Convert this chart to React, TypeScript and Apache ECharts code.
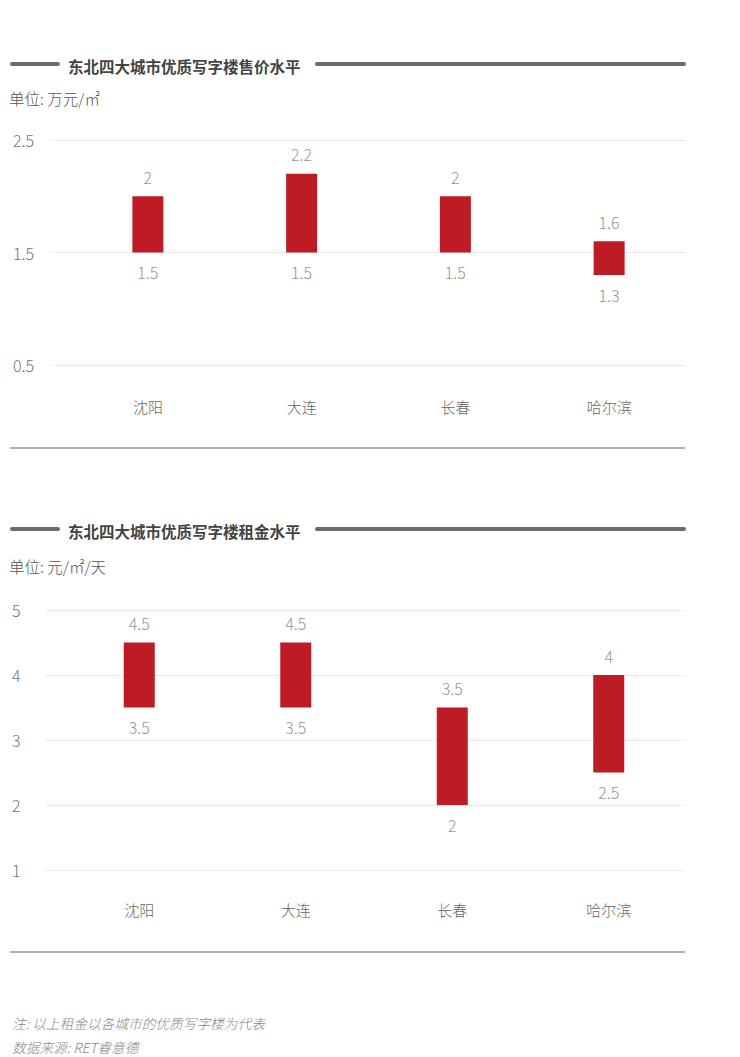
import React, { useEffect, useRef } from 'react';
import * as echarts from 'echarts';

const cities = ['沈阳', '大连', '长春', '哈尔滨'];
const priceLow = [1.5, 1.5, 1.5, 1.3];
const priceHigh = [2, 2.2, 2, 1.6];
const rentLow = [3.5, 3.5, 2, 2.5];
const rentHigh = [4.5, 4.5, 3.5, 4];
const priceAxis = { min: 0.5, max: 2.5, interval: 1 };
const rentAxis = { min: 1, max: 5, interval: 1 };
const title1 = '东北四大城市优质写字楼售价水平';
const title2 = '东北四大城市优质写字楼租金水平';
const unit1 = '单位: 万元/㎡';
const unit2 = '单位: 元/㎡/天';
const note1 = '注: 以上租金以各城市的优质写字楼为代表';
const note2 = '数据来源: RET睿意德';

const FONT = '"Noto Sans CJK SC", "Noto Sans", sans-serif';
const RED = '#be1b25';

function rangeSeries(xi: number, yi: number, low: number[], high: number[], stack: string) {
  const diff = high.map((h, i) => h - low[i]);
  const lbl = (pos: string) => ({
    show: true,
    position: pos,
    distance: 11,
    color: '#747474',
    fontSize: 16,
    fontWeight: 300,
    fontFamily: FONT,
  });
  return [
    {
      type: 'bar', xAxisIndex: xi, yAxisIndex: yi, stack, data: low, barWidth: 31,
      itemStyle: { color: 'rgba(0,0,0,0)' }, silent: true,
    },
    {
      type: 'bar', xAxisIndex: xi, yAxisIndex: yi, stack, data: diff, barWidth: 31,
      itemStyle: { color: RED },
    },
    {
      type: 'scatter', xAxisIndex: xi, yAxisIndex: yi, data: high, symbolSize: 1,
      itemStyle: { color: 'rgba(0,0,0,0)' }, label: lbl('top'),
    },
    {
      type: 'scatter', xAxisIndex: xi, yAxisIndex: yi, data: low, symbolSize: 1,
      itemStyle: { color: 'rgba(0,0,0,0)' }, label: lbl('bottom'),
    },
  ];
}

function lineAxisY(gi: number, ax: any, margin: number) {
  return {
    gridIndex: gi, type: 'value', ...ax,
    axisLine: { show: false }, axisTick: { show: false },
    axisLabel: { align: 'left', margin, color: '#747474', fontSize: 16, fontWeight: 300, fontFamily: FONT },
    splitLine: { show: true, lineStyle: { type: 'dotted', color: '#d6d6d6', width: 1 } },
  };
}
function hiddenY(gi: number, ax: any) {
  return { gridIndex: gi, type: 'value', ...ax, show: false, splitLine: { show: false } };
}
function catX(gi: number, margin: number, show: boolean) {
  return {
    gridIndex: gi, type: 'category', data: cities, show,
    axisLine: { show: false }, axisTick: { show: false },
    axisLabel: { margin, color: '#666', fontSize: 15, fontWeight: 300, fontFamily: FONT },
  };
}

function titleBlock(y: number, text: string) {
  return [
    { type: 'line', shape: { x1: 12, y1: y, x2: 58, y2: y }, style: { stroke: '#6b6b6b', lineWidth: 4, lineCap: 'round' } },
    { type: 'line', shape: { x1: 317, y1: y, x2: 684, y2: y }, style: { stroke: '#6b6b6b', lineWidth: 4, lineCap: 'round' } },
    { type: 'text', x: 68, y: y + 2, style: { text, fill: '#444', fontSize: 15.5, fontWeight: 'bold', fontFamily: FONT, verticalAlign: 'middle' } },
  ];
}
function plainText(x: number, y: number, text: string, size: number, color: string, weight: number, italic = false) {
  return {
    type: 'text', x, y,
    style: { text, fill: color, fontSize: size, fontWeight: weight, fontFamily: FONT, fontStyle: italic ? 'italic' : 'normal', verticalAlign: 'middle' },
  };
}

export default function App() {
  const ref = useRef<HTMLDivElement>(null);
  useEffect(() => {
    const chart = echarts.init(ref.current!, null, { renderer: 'svg' });
    chart.setOption({
      animation: false,
      backgroundColor: '#fff',
      grid: [
        { left: 52, right: 55, top: 140, height: 225 },
        { left: 71, right: 54, top: 140, height: 225 },
        { left: 47, right: 55, top: 610, height: 260 },
        { left: 61, right: 53, top: 610, height: 260 },
      ],
      xAxis: [catX(0, 0, false), catX(1, 34, true), catX(2, 0, false), catX(3, 32, true)],
      yAxis: [lineAxisY(0, priceAxis, 39), hiddenY(1, priceAxis), lineAxisY(2, rentAxis, 35), hiddenY(3, rentAxis)],
      series: [
        ...rangeSeries(1, 1, priceLow, priceHigh, 'p'),
        ...rangeSeries(3, 3, rentLow, rentHigh, 'r'),
      ],
      graphic: [
        ...titleBlock(64, title1),
        ...titleBlock(529, title2),
        plainText(9, 98, unit1, 15.5, '#555', 300),
        plainText(9, 566, unit2, 15.5, '#555', 300),
        { type: 'line', shape: { x1: 10, y1: 448, x2: 685, y2: 448 }, style: { stroke: '#999', lineWidth: 1.5 } },
        { type: 'line', shape: { x1: 10, y1: 952, x2: 685, y2: 952 }, style: { stroke: '#999', lineWidth: 1.5 } },
        plainText(12, 1023, note1, 13.7, '#888', 300, true),
        plainText(12, 1047, note2, 13.7, '#888', 300, true),
      ],
    });
    return () => chart.dispose();
  }, []);
  return <div ref={ref} style={{ position: 'absolute', left: 0, top: 0, width: 740, height: 1057 }} />;
}
